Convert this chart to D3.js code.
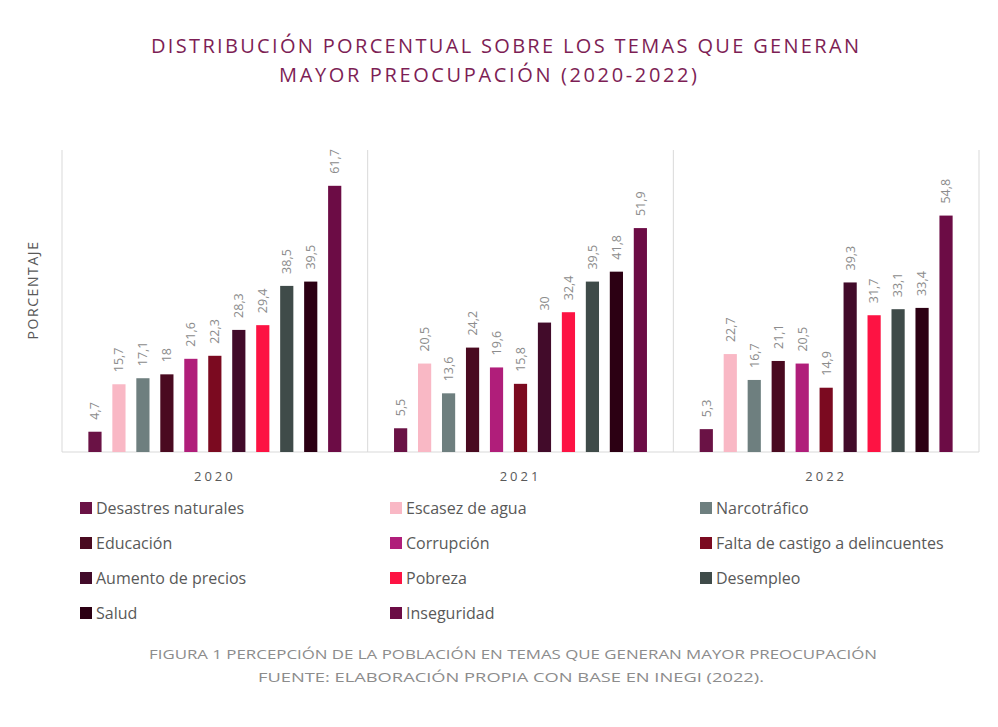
<!DOCTYPE html>
<html>
<head>
<meta charset="utf-8">
<script src="https://cdn.jsdelivr.net/npm/d3@7"></script>
<style>
  body { margin: 0; background: #fff; }
  text { font-family: "Open Sans", sans-serif; }
</style>
</head>
<body>
<div id="viz"></div>
<script>
const WIDTH = 998;
const HEIGHT = 727;

const years = ['2020', '2021', '2022'];
const temas = ['Desastres naturales', 'Escasez de agua', 'Narcotráfico', 'Educación', 'Corrupción',
  'Falta de castigo a delincuentes', 'Aumento de precios', 'Pobreza', 'Desempleo', 'Salud', 'Inseguridad'];
const colores = ['#6a1245', '#f9b8c5', '#6e7f7f', '#4a0a20', '#b01e7a',
  '#7b0a20', '#420b2a', '#fd1343', '#3f4b49', '#2c0013', '#6c0c45'];
const valores2020 = [4.7, 15.7, 17.1, 18, 21.6, 22.3, 28.3, 29.4, 38.5, 39.5, 61.7];
const valores2021 = [5.5, 20.5, 13.6, 24.2, 19.6, 15.8, 30, 32.4, 39.5, 41.8, 51.9];
const valores2022 = [5.3, 22.7, 16.7, 21.1, 20.5, 14.9, 39.3, 31.7, 33.1, 33.4, 54.8];
const titulo = ['DISTRIBUCIÓN PORCENTUAL SOBRE LOS TEMAS QUE GENERAN', 'MAYOR PREOCUPACIÓN (2020-2022)'];
const pie = ['FIGURA 1 PERCEPCIÓN DE LA POBLACIÓN EN TEMAS QUE GENERAN MAYOR PREOCUPACIÓN',
  'FUENTE: ELABORACIÓN PROPIA CON BASE EN INEGI (2022).'];

const PLOT = { left: 62, right: 979, top: 150, bottom: 452 };

const svg = d3.select('#viz').append('svg')
  .attr('width', WIDTH)
  .attr('height', HEIGHT);

const series = [valores2020, valores2021, valores2022];

const x0 = d3.scaleBand().domain(years).range([PLOT.left, PLOT.right]);
const x1 = d3.scaleBand().domain(temas).range([0, x0.bandwidth()])
  .paddingInner(0.45).paddingOuter(1.1);
const y = d3.scaleLinear().domain([0, 70]).range([PLOT.bottom, PLOT.top]);
const color = d3.scaleOrdinal().domain(temas).range(colores);
const fmt = v => String(v).replace('.', ',');

// title
svg.selectAll('.titulo')
  .data(titulo)
  .enter()
  .append('text')
  .attr('class', 'titulo')
  .attr('x', (d, i) => i == 0 ? 505 : 488)
  .attr('y', (d, i) => 53 + i * 29)
  .attr('text-anchor', 'middle')
  .attr('font-size', '20px')
  .attr('fill', '#7d1e55')
  .attr('textLength', (d, i) => i == 0 ? 708 : 418)
  .attr('lengthAdjust', 'spacing')
  .text(d => d);

// panel separators + baseline
svg.append('g')
  .selectAll('line')
  .data(years.map(yr => x0(yr)).concat([PLOT.right]))
  .enter()
  .append('line')
  .attr('x1', d => d).attr('x2', d => d)
  .attr('y1', PLOT.top).attr('y2', PLOT.bottom)
  .attr('stroke', '#d9d9d9')
  .attr('stroke-width', 1);

svg.append('line')
  .attr('x1', PLOT.left).attr('x2', PLOT.right)
  .attr('y1', PLOT.bottom).attr('y2', PLOT.bottom)
  .attr('stroke', '#d9d9d9')
  .attr('stroke-width', 1);

// bars
const groups = svg.selectAll('.year')
  .data(years)
  .enter()
  .append('g')
  .attr('class', 'year')
  .attr('transform', d => 'translate(' + x0(d) + ',0)');

groups.selectAll('rect')
  .data((yr, i) => temas.map((t, j) => ({ tema: t, valor: series[i][j] })))
  .enter()
  .append('rect')
  .attr('x', d => x1(d.tema))
  .attr('y', d => y(d.valor))
  .attr('width', x1.bandwidth())
  .attr('height', d => y(0) - y(d.valor))
  .attr('fill', d => color(d.tema));

groups.selectAll('.etiqueta')
  .data((yr, i) => temas.map((t, j) => ({ tema: t, valor: series[i][j] })))
  .enter()
  .append('text')
  .attr('class', 'etiqueta')
  .attr('transform', d => 'translate(' + (x1(d.tema) + x1.bandwidth() / 2) + ',' + (y(d.valor) - 12) + ') rotate(-90)')
  .attr('dy', '0.35em')
  .attr('font-size', '12.5px')
  .attr('fill', '#8c8c8c')
  .text(d => fmt(d.valor));

// year labels
svg.selectAll('.anio')
  .data(years)
  .enter()
  .append('text')
  .attr('class', 'anio')
  .attr('x', d => x0(d) + x0.bandwidth() / 2)
  .attr('y', 481)
  .attr('text-anchor', 'middle')
  .attr('font-size', '13px')
  .attr('letter-spacing', '3px')
  .attr('fill', '#595959')
  .text(d => d);

// y axis title
svg.append('text')
  .attr('transform', 'translate(38,290) rotate(-90)')
  .attr('text-anchor', 'middle')
  .attr('font-size', '14px')
  .attr('letter-spacing', '1.6px')
  .attr('fill', '#595959')
  .text('PORCENTAJE');

// legend, 3 columns
const legendX = [80, 390, 700];
const legend = svg.selectAll('.leyenda')
  .data(temas)
  .enter()
  .append('g')
  .attr('class', 'leyenda')
  .attr('transform', (d, i) => 'translate(' + legendX[i % 3] + ',' + (508 + Math.floor(i / 3) * 35) + ')');

legend.append('rect')
  .attr('x', 0).attr('y', -6)
  .attr('width', 12).attr('height', 12)
  .attr('fill', d => color(d));

legend.append('text')
  .attr('x', 16)
  .attr('dy', '0.35em')
  .attr('font-size', '16px')
  .attr('fill', '#595959')
  .text(d => d);

// caption
svg.selectAll('.pie')
  .data(pie)
  .enter()
  .append('text')
  .attr('class', 'pie')
  .attr('x', (d, i) => i == 0 ? 513 : 511)
  .attr('y', (d, i) => 659 + i * 23)
  .attr('text-anchor', 'middle')
  .attr('font-size', '13px')
  .attr('fill', '#8c8c8c')
  .attr('textLength', (d, i) => i == 0 ? 728 : 506)
  .attr('lengthAdjust', 'spacingAndGlyphs')
  .text(d => d);
</script>
</body>
</html>
